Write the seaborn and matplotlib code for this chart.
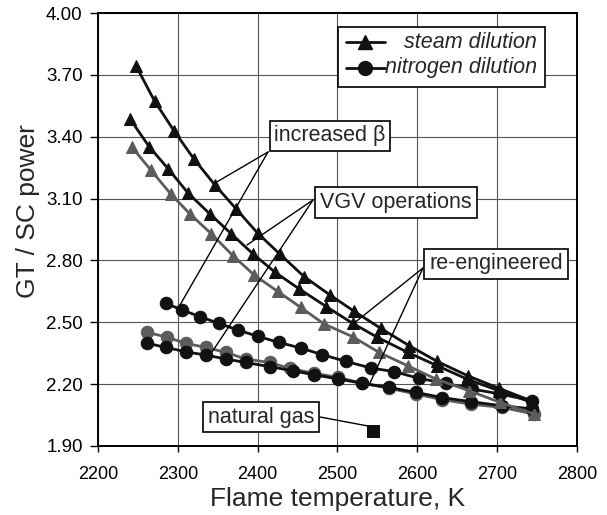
import matplotlib
matplotlib.use("Agg")
import matplotlib.pyplot as plt
import seaborn as sns
import numpy as np
import pandas as pd

# ---------------- data ----------------
# steam dilution, increased beta (black triangles, top)
s1_T = [2248, 2271, 2295, 2320, 2346, 2373, 2400, 2428, 2458, 2490, 2521, 2554, 2590, 2625, 2663, 2702, 2744]
s1_P = [3.741, 3.572, 3.430, 3.293, 3.168, 3.050, 2.932, 2.830, 2.722, 2.634, 2.553, 2.471, 2.386, 2.310, 2.241, 2.180, 2.117]
# steam dilution, VGV operations (black triangles, middle)
s2_T = [2240, 2264, 2288, 2313, 2340, 2367, 2394, 2422, 2452, 2486, 2519, 2550, 2588, 2625, 2662, 2702, 2744]
s2_P = [3.487, 3.352, 3.244, 3.126, 3.026, 2.929, 2.832, 2.742, 2.662, 2.576, 2.495, 2.427, 2.354, 2.289, 2.225, 2.168, 2.111]
# steam dilution, re-engineered (grey triangles)
s3_T = [2242, 2266, 2291, 2315, 2342, 2369, 2396, 2425, 2454, 2483, 2519, 2552, 2588, 2623, 2665, 2704, 2746]
s3_P = [3.352, 3.239, 3.123, 3.026, 2.929, 2.823, 2.728, 2.650, 2.572, 2.492, 2.430, 2.354, 2.289, 2.225, 2.168, 2.111, 2.055]
# nitrogen dilution, increased beta (black circles, top)
c1_T = [2285, 2305, 2328, 2351, 2375, 2400, 2427, 2454, 2481, 2511, 2542, 2571, 2602, 2636, 2669, 2704, 2744]
c1_P = [2.592, 2.560, 2.527, 2.495, 2.463, 2.432, 2.402, 2.375, 2.343, 2.310, 2.278, 2.261, 2.228, 2.204, 2.176, 2.152, 2.119]
# nitrogen dilution, VGV operations (black circles, lower)
c2_T = [2262, 2285, 2310, 2335, 2360, 2385, 2415, 2444, 2471, 2501, 2531, 2565, 2598, 2631, 2667, 2706, 2744]
c2_P = [2.398, 2.378, 2.357, 2.341, 2.322, 2.305, 2.285, 2.265, 2.245, 2.225, 2.204, 2.184, 2.160, 2.135, 2.115, 2.095, 2.080]
# nitrogen dilution, re-engineered (grey circles)
c3_T = [2262, 2287, 2310, 2335, 2360, 2385, 2415, 2440, 2471, 2501, 2531, 2565, 2598, 2631, 2667, 2706, 2746]
c3_P = [2.451, 2.427, 2.398, 2.378, 2.354, 2.322, 2.305, 2.277, 2.252, 2.233, 2.204, 2.180, 2.152, 2.125, 2.103, 2.087, 2.055]
# natural gas reference point
ng_T = [2545]
ng_P = [1.975]

x_ticks = [2200, 2300, 2400, 2500, 2600, 2700, 2800]
y_ticks = [1.90, 2.20, 2.50, 2.80, 3.10, 3.40, 3.70, 4.00]
x_label = "Flame temperature, K"
y_label = "GT / SC power"
legend_labels = ["steam dilution", "nitrogen dilution"]

# ---------------- style ----------------
sns.set_style("white")
plt.rcParams['font.family'] = ['Liberation Sans', 'DejaVu Sans']

W, H = 607, 515
fig = plt.figure(figsize=(W / 100, H / 100), dpi=100)
L, R, T, B = 98, 577, 13, 446
ax = fig.add_axes([L / W, 1 - B / H, (R - L) / W, (B - T) / H])

BLACK = "#111111"
GREY = "#5c5c5c"

def series(tx, py, marker, color, ms, z):
    df = pd.DataFrame({"T": tx, "P": py})
    sns.lineplot(data=df, x="T", y="P", ax=ax, color=color, marker=marker,
                 markersize=ms, markeredgecolor=color, markerfacecolor=color,
                 linewidth=2.0, sort=False, estimator=None, zorder=z)

series(c3_T, c3_P, "o", GREY, 9, 3)
series(c2_T, c2_P, "o", BLACK, 9, 3)
series(c1_T, c1_P, "o", BLACK, 9, 3)
series(s3_T, s3_P, "^", GREY, 9, 4)
series(s2_T, s2_P, "^", BLACK, 9, 4)
series(s1_T, s1_P, "^", BLACK, 9, 4)
sns.scatterplot(x=ng_T, y=ng_P, ax=ax, marker="s", s=80, color=BLACK,
                edgecolor=BLACK, zorder=5)

ax.set_xlim(2200, 2800)
ax.set_ylim(1.90, 4.00)
ax.set_xticks(x_ticks)
ax.set_yticks(y_ticks)
ax.set_yticklabels([f"{v:.2f}" for v in y_ticks])
ax.grid(True, color="#555555", linewidth=0.8)
ax.set_axisbelow(True)
for sp in ax.spines.values():
    sp.set_color("black")
    sp.set_linewidth(1.4)
ax.tick_params(axis="y", direction="out", length=6, width=1, pad=5,
               labelsize=13.5, colors="black", left=True)
ax.tick_params(axis="x", direction="out", length=4, width=1, pad=10.5,
               labelsize=13, colors="black", bottom=True)
ax.set_xlabel(x_label, fontsize=19, labelpad=3)
ax.set_ylabel(y_label, fontsize=19)
ax.yaxis.set_label_coords(-0.122, 0.543)

# pixel -> data helper for annotation layout
def p2d(px, py):
    return (2200 + (px - L) / (R - L) * 600, 4.0 - (py - T) / (B - T) * 2.1)

def p2a(px, py):
    return ((px - L) / (R - L), (B - py) / (B - T))

ANN = 15.5
box = dict(boxstyle="square,pad=0.22", fc="white", ec="black", lw=1.2)

def label(text, center_px, origin_px, targets_px):
    ox, oy = p2d(*origin_px)
    for tp in targets_px:
        tx, ty = p2d(*tp)
        ax.plot([ox, tx], [oy, ty], color="black", lw=1.0, zorder=6)
    cx, cy = p2a(*center_px)
    ax.text(cx, cy, text, transform=ax.transAxes, ha="center", va="center",
            fontsize=ANN, bbox=box, zorder=7)

label("increased β", (330, 136), (268, 152), [(215, 183), (180, 305)])
label("VGV operations", (396, 202.5), (313, 200), [(247, 245), (212, 352)])
label("re-engineered", (496, 264), (423, 268), [(353, 324), (370, 383)])
label("natural gas", (261, 417), (320, 417), [(368, 426)])

# legend (drawn manually to mimic right-aligned entries)
lx0, ly0 = p2a(338, 87)
lx1, ly1 = p2a(545, 27)
ax.add_patch(plt.Rectangle((lx0, ly0), lx1 - lx0, ly1 - ly0, transform=ax.transAxes,
                           fc="white", ec="black", lw=1.2, zorder=7))
for i, (mk, lab) in enumerate(zip(["^", "o"], legend_labels)):
    yy = [42, 68][i]
    a0 = p2a(346, yy)
    a1 = p2a(385, yy)
    am = p2a(365, yy)
    ax.plot([a0[0], a1[0]], [a0[1], a1[1]], color=BLACK, lw=2.0, transform=ax.transAxes, zorder=8)
    ax.plot([am[0]], [am[1]], marker=mk, ms=10, color=BLACK, transform=ax.transAxes, zorder=8)
    tpos = p2a(537, yy)
    ax.text(tpos[0], tpos[1], lab, transform=ax.transAxes, ha="right", va="center",
            fontsize=ANN, style="italic", zorder=8)

fig.savefig("out.png", dpi=100)
